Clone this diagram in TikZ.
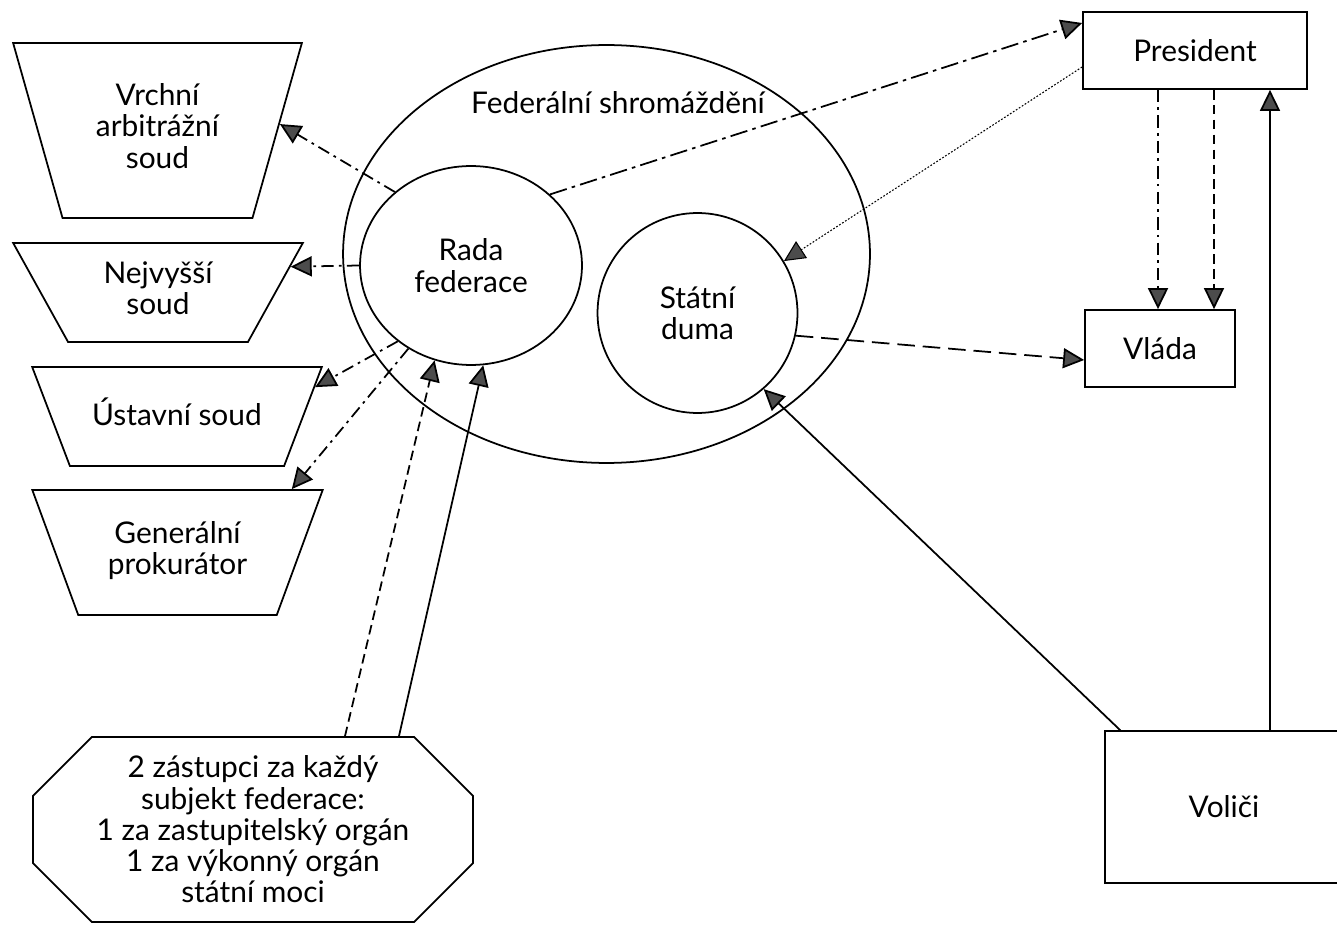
\documentclass[tikz,border=0pt]{standalone}
\usepackage{fontspec}
\setmainfont{Lato}
\usetikzlibrary{shapes.geometric,shapes.misc,arrows.meta}
\definecolor{tipgray}{gray}{0.3}
% text of a court, kept from widening its trapezium
\newcommand{\courttext}[1]{\makebox[0pt]{\begin{tabular}{@{}c@{}}#1\end{tabular}}}

\begin{document}
\begin{tikzpicture}[x=0.02cm,y=-0.02cm,line width=1pt,
	font=\fontsize{17}{17.8}\selectfont,
	court/.style={draw,trapezium,trapezium stretches=true,inner ysep=0pt},
	box/.style={draw,rectangle,align=center,inner sep=0pt},
	arr/.style={-{Triangle[length=4.2mm,width=4mm,fill=tipgray]}},
	ddline/.style={dash pattern=on 7pt off 3pt on 1.5pt off 3pt},
	longdd/.style={dash pattern=on 10pt off 3pt on 2pt off 3pt},
	dline/.style={dash pattern=on 5.5pt off 3pt},
	longdash/.style={dash pattern=on 10pt off 4.5pt},
	dotline/.style={line width=0.6pt,dash pattern=on 1pt off 1pt}]
	\useasboundingbox (0,0) rectangle (1337,925);

	%courts (inner xsep gives the lower side)
	\node[court,inner xsep=1.47cm,minimum width=5.78cm,minimum height=3.5cm,trapezium left angle=112.1,trapezium right angle=112.1] (vrchni) at (157.5,130.5) {\courttext{Vrchní\\arbitrážní\\soud}};
	\node[court,inner xsep=1.47cm,minimum width=5.8cm,minimum height=1.98cm,trapezium left angle=125.6,trapezium right angle=125.6] (nejvyssi) at (158,292.5) {\courttext{Nejvyšší\\soud}};
	\node[court,inner xsep=1.49cm,minimum width=5.8cm,minimum height=1.98cm,trapezium left angle=125.3,trapezium right angle=125.3] (ustavni) at (177,416.5) {\courttext{Ústavní soud}};
	\node[court,inner xsep=1.52cm,minimum width=5.82cm,minimum height=2.5cm,trapezium left angle=119.25,trapezium right angle=119.25] (generalni) at (177.5,552.5) {\courttext{Generální\\prokurátor}};

	%parliament
	\node[draw,ellipse,minimum width=10.54cm,minimum height=8.36cm] (fed) at (606.5,254) {};
	\node (fedlabel) at (618,103) {Federální shromáždění};
	\node[draw,ellipse,minimum width=4.44cm,minimum height=3.98cm,align=center] (rada) at (471,265.5) {Rada\\federace};
	\node[draw,circle,minimum size=4cm,align=center] (duma) at (697.5,313) {Státní\\duma};

	%right column
	\node[box,minimum width=4.48cm,minimum height=1.54cm] (president) at (1195,50.5) {President};
	\node[box,minimum width=3cm,minimum height=1.54cm] (vlada) at (1160,348.5) {Vláda};
	\node[box,minimum width=4.76cm,minimum height=3.04cm] (volici) at (1224,807) {Voliči};

	%subjects of the federation
	\node[draw,chamfered rectangle,chamfered rectangle xsep=1.06cm,minimum width=8.8cm,minimum height=3.7cm,align=center,inner sep=0pt] (zast) at (253,829.5) {2 zástupci za každý\\subjekt federace:\\1 za zastupitelský orgán\\1 za výkonný orgán\\státní moci};

	%Rada -> courts
	\draw[ddline,arr] (rada.136) -- (vrchni.3);
	\draw[ddline,arr] (rada.180) -- (nejvyssi.11);
	\draw[ddline,arr] (rada.226) -- (ustavni.12);
	\draw[ddline,arr] (rada.233) -- (generalni.29);

	%subjects -> Rada
	\draw[dline,arr] ([xshift=1.84cm]zast.north) -- (rada.249);
	\draw[arr] ([xshift=2.92cm]zast.north) -- (rada.277);

	%President
	\draw[longdd,arr] (rada.42) -- ([yshift=0.55cm]president.west);
	\draw[dotline,arr] ([yshift=-0.33cm]president.west) -- (duma.31);
	\coordinate (p1) at ([xshift=-0.74cm]president.south);
	\coordinate (p2) at ([xshift=0.38cm]president.south);
	\draw[ddline,arr] (p1) -- (p1 |- vlada.north);
	\draw[dline,arr] (p2) -- (p2 |- vlada.north);

	%Duma -> Vlada
	\draw[longdash,arr] (duma.-13.6) -- ([yshift=-0.23cm]vlada.west);

	%voters
	\draw[arr] ([xshift=0.32cm]volici.north west) -- (duma.-49);
	\coordinate (v1) at ([xshift=0.92cm]volici.north);
	\draw[arr] (v1) -- (v1 |- president.south);
\end{tikzpicture}
\end{document}
